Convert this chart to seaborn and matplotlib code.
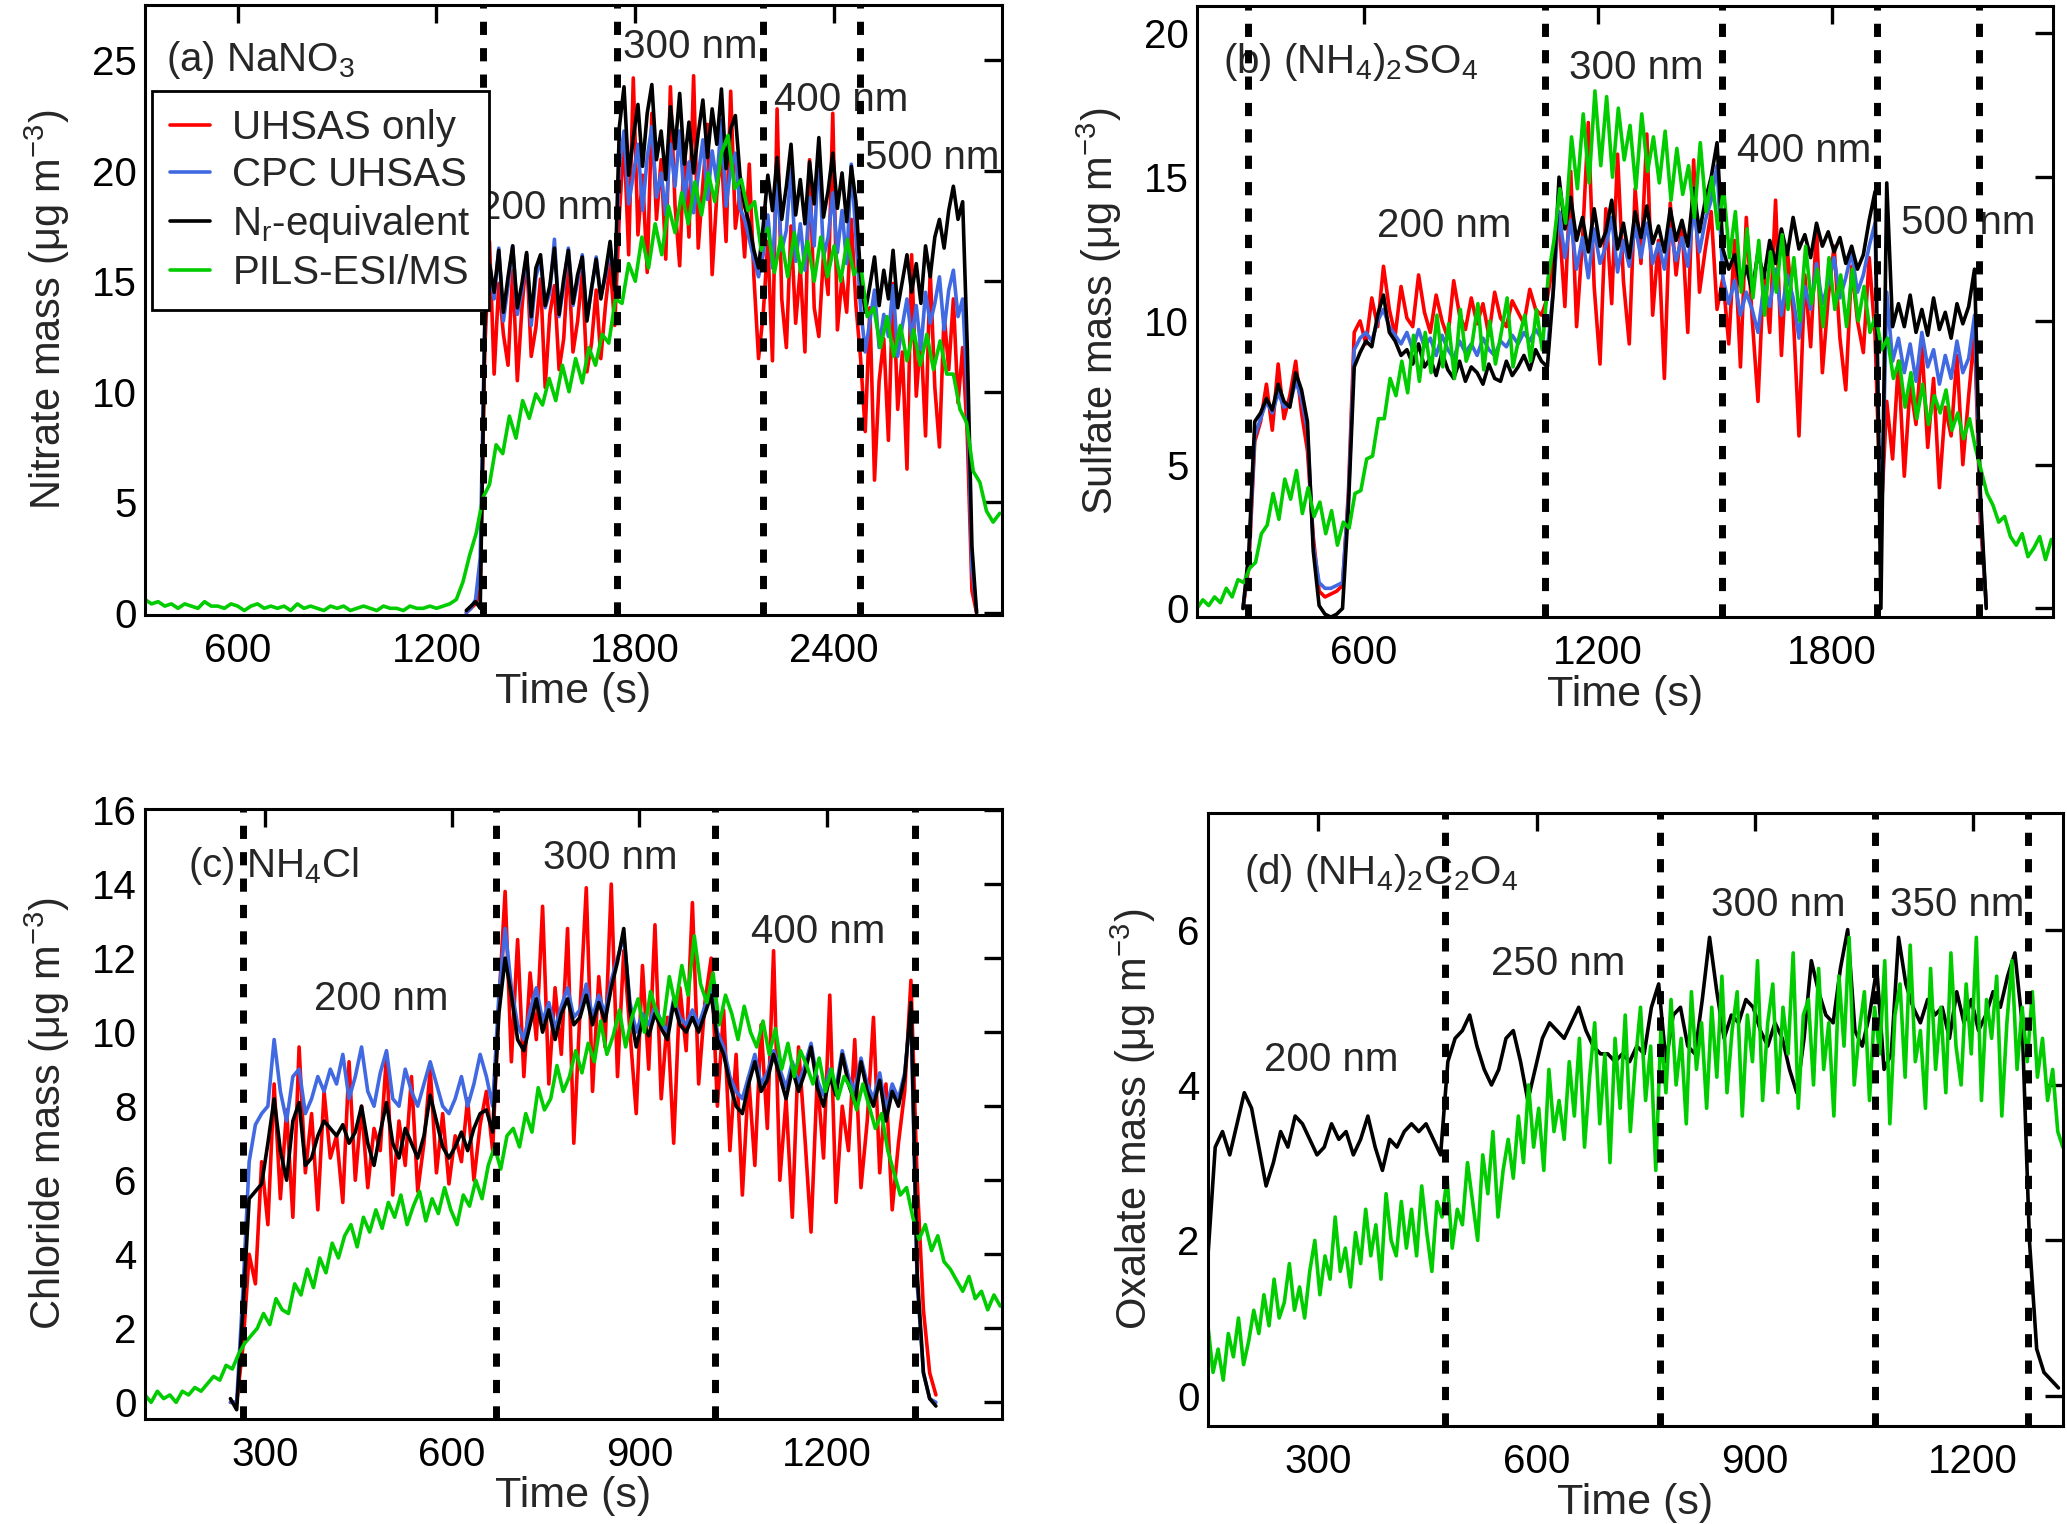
import numpy as np
import pandas as pd
import seaborn as sns
import matplotlib.pyplot as plt
from matplotlib.lines import Line2D

# ---------------- data ----------------
series_names = ['UHSAS only', 'CPC UHSAS', 'Nr-equivalent', 'PILS-ESI/MS']
legend_labels = ['UHSAS only', 'CPC UHSAS', r'N$_\mathrm{r}$-equivalent', 'PILS-ESI/MS']

# (a) NaNO3 -- UHSAS based traces start at 1290 s, one value every 14 s
a_uhsas_start, a_uhsas_step = 1290, 14
a_red = [0.0, 0.2, 0.4, 1.0,
         12.0, 16.8, 10.8, 14.9, 12.6, 11.2, 15.5, 10.5, 13.8, 16.2, 11.6, 12.9, 15.1, 10.2, 13.5,
         14.8, 11.0, 12.4, 16.0, 11.8, 13.2, 15.4, 10.9, 12.2, 14.6, 11.5, 13.9, 15.8, 13.0,
         18.0, 21.5, 16.2, 24.2, 17.1, 19.8, 15.4, 22.6, 17.8, 20.5, 16.0, 23.8, 18.4, 15.7, 21.2,
         17.0, 24.3, 16.5, 19.4, 22.1, 15.3, 18.9, 20.8, 16.8, 23.6, 17.4, 19.0, 16.1, 20.3, 15.2, 11.5,
         13.5, 16.8, 11.4, 22.8, 14.2, 12.0, 17.5, 13.1, 15.6, 11.8, 20.5, 13.8, 12.5, 16.2, 14.4,
         22.6, 12.8, 15.2, 13.6, 17.8, 13.9,
         11.5, 8.2, 13.8, 6.0, 10.5, 12.4, 7.8, 14.9, 9.2, 11.8, 6.5, 16.2, 9.8, 12.6, 8.0, 15.5,
         10.2, 7.5, 13.5, 11.0, 14.2, 9.5, 12.0,
         8.0, 1.0, 0.0]
a_blue = [0.0, 0.2, 0.6, 2.5,
          13.5, 15.8, 14.2, 16.5, 13.2, 14.8, 16.6, 13.5, 14.6, 16.2, 13.0, 15.2, 16.0, 13.8, 14.5,
          16.9, 13.4, 14.8, 16.5, 13.9, 15.0, 16.2, 13.3, 14.6, 16.1, 14.3, 15.2, 16.5, 14.8,
          20.2, 21.8, 18.5, 19.8, 21.2, 18.2, 20.6, 22.0, 18.8, 19.9, 18.0, 21.2, 19.3, 21.8, 18.6,
          20.4, 18.1, 19.8, 21.4, 18.7, 20.9, 19.5, 22.3, 18.4, 20.1, 20.8, 18.3, 17.8, 16.9, 16.0, 15.2,
          16.2, 18.0, 15.6, 19.5, 16.4, 17.3, 20.1, 15.9, 17.6, 15.5, 18.8, 16.6, 21.0, 16.1, 17.0,
          19.0, 16.3, 18.2, 15.8, 20.3, 17.0,
          13.8, 11.8, 13.2, 14.6, 12.0, 13.5, 12.5, 14.8, 11.6, 13.0, 14.2, 12.4, 13.9, 11.9, 14.5,
          13.1, 14.0, 15.2, 12.8, 14.6, 15.5, 13.4, 14.2,
          10.0, 2.0, 0.1]
a_black = [0.1, 0.3, 0.5, 0.2,
           13.2, 15.8, 14.5, 16.4, 13.6, 15.2, 16.6, 13.8, 14.9, 16.3, 13.4, 15.6, 16.2, 13.9, 14.8,
           16.5, 13.5, 15.1, 16.4, 14.0, 15.3, 16.1, 13.2, 14.7, 16.0, 14.2, 15.4, 16.8, 14.6,
           22.0, 23.8, 19.8, 21.5, 23.0, 20.2, 22.6, 23.9, 20.5, 21.8, 19.6, 22.9, 21.0, 23.5, 20.3,
           22.2, 19.9, 21.7, 23.2, 20.6, 22.8, 21.2, 23.7, 20.1, 21.9, 22.5, 19.8, 18.4, 17.6, 16.4, 15.6,
           17.5, 19.8, 18.2, 20.6, 17.8, 19.3, 21.2, 18.0, 19.6, 17.6, 20.4, 18.5, 21.5, 17.9, 19.1,
           20.8, 18.3, 19.9, 17.7, 20.2, 18.6,
           15.2, 13.6, 14.8, 16.1, 13.9, 15.5, 14.2, 16.4, 13.8, 15.0, 16.2, 14.5, 15.8, 14.0, 16.6,
           15.2, 17.0, 17.8, 16.5, 18.2, 19.3, 17.8, 18.6,
           12.0, 3.0, 0.0]
# PILS trace starts at 320 s, one value every 20 s
a_pils_start, a_pils_step = 320, 20
a_green = [0.6, 0.4, 0.5, 0.3, 0.4, 0.2, 0.4, 0.3, 0.2, 0.5, 0.3, 0.3, 0.2, 0.4, 0.3, 0.1,
           0.3, 0.4, 0.2, 0.3, 0.2, 0.3, 0.1, 0.4, 0.2, 0.3, 0.2, 0.1, 0.3, 0.2, 0.3, 0.1,
           0.2, 0.3, 0.2, 0.1, 0.3, 0.2, 0.2, 0.1, 0.3, 0.2, 0.2, 0.3, 0.2, 0.3, 0.4,
           0.6, 1.4, 2.6, 3.6, 5.2, 5.8, 7.6, 7.2, 8.9, 7.9, 9.6, 8.8, 9.9, 9.4, 10.6, 9.6,
           11.2, 10.0, 11.5, 10.4, 12.0, 11.2, 12.6, 12.2, 14.2, 14.0, 15.8, 15.0, 17.0, 15.6,
           17.6, 16.2, 18.4, 17.2, 19.0, 17.6, 19.5, 18.0, 19.9, 18.6, 20.8, 21.6, 19.2, 19.6,
           18.2, 18.6, 16.4, 17.4, 15.4, 17.0, 15.2, 17.2, 15.4, 16.8, 15.0, 17.0, 15.2, 16.6,
           15.0, 16.9, 15.3, 15.8, 13.4, 13.8, 12.0, 13.4, 11.6, 13.0, 11.4, 12.8, 11.2, 12.6,
           11.0, 12.3, 10.8, 10.8, 9.2, 8.6, 6.4, 5.9, 4.6, 4.1, 4.5]
a_size_times = [1340, 1745, 2185, 2478]

# (b) (NH4)2SO4 -- UHSAS based traces from 290 s every 15 s
b_uhsas_start, b_uhsas_step = 290, 15
b_red = [0.0, 1.5, 5.8, 6.5, 7.8, 6.2, 8.5, 6.6, 7.4, 8.6, 6.8, 5.5, 2.5, 0.6, 0.4, 0.5, 0.6, 0.8,
         4.0, 9.6, 10.0, 9.2, 10.8, 9.8, 11.9, 10.4, 9.5, 11.2, 10.1, 9.8, 11.6, 10.3, 9.6, 10.9,
         10.0, 9.4, 11.4, 10.2, 9.7, 10.8, 9.9, 10.6, 9.5, 11.0, 10.1, 9.8, 10.7, 10.3, 9.9, 11.1,
         10.4, 10.2, 10.8,
         12.0, 13.5, 10.5, 15.2, 9.8, 12.8, 16.9, 11.2, 8.5, 13.9, 10.6, 15.8, 11.4, 9.2, 14.6,
         12.0, 16.5, 10.2, 12.8, 8.0, 14.1, 11.6, 13.4, 9.6, 15.6, 11.0, 12.5, 13.8, 10.4,
         11.5, 9.2, 12.8, 8.4, 13.6, 10.1, 7.2, 11.8, 9.6, 14.2, 8.8, 12.5, 10.3, 6.0, 11.6, 9.1,
         13.3, 8.2, 10.8, 12.6, 9.4, 7.6, 11.9, 10.0, 8.9, 12.2, 9.5,
         3.0, 7.2, 5.2, 8.6, 4.6, 7.8, 6.4, 9.2, 5.6, 8.0, 4.2, 7.0, 6.0, 8.8, 5.0, 7.4, 9.6, 3.0, 0.2]
b_blue = [0.0, 1.8, 6.0, 6.6, 7.2, 6.8, 7.5, 7.0, 7.1, 7.9, 7.3, 6.2, 2.2, 0.9, 0.7, 0.7, 0.8, 0.9,
          3.8, 9.0, 9.4, 9.6, 9.3, 10.0, 10.4, 9.8, 9.5, 9.2, 9.6, 9.0, 9.7, 9.1, 9.4, 8.8, 9.5,
          9.0, 8.7, 9.3, 8.9, 9.2, 8.8, 9.4, 9.0, 8.8, 9.3, 9.1, 9.5, 9.2, 9.6, 9.3, 9.7, 9.4, 9.0,
          11.0, 13.8, 12.2, 13.5, 11.8, 12.9, 11.5, 13.2, 12.0, 12.6, 13.6, 11.7, 12.8, 11.9, 13.3,
          12.2, 13.4, 12.0, 12.7, 11.8, 13.2, 12.1, 12.9, 11.9, 13.9, 12.4, 13.5, 14.2, 15.4,
          11.5, 10.6, 11.4, 10.2, 11.0, 10.4, 9.6, 11.2, 10.5, 11.8, 10.2, 11.6, 10.8, 9.4, 11.2,
          10.4, 12.0, 10.6, 11.3, 12.2, 10.8, 11.5, 12.4, 11.0, 11.6, 12.6, 13.4,
          2.0, 11.0, 8.6, 9.4, 8.2, 9.2, 7.9, 9.6, 8.4, 9.0, 7.8, 8.8, 8.0, 9.3, 8.2, 8.7, 10.2, 3.5, 0.1]
b_black = [0.0, 2.0, 6.5, 6.8, 7.3, 6.9, 7.8, 7.2, 7.0, 8.2, 7.6, 6.5, 2.0, 0.1, -0.2, -0.3, -0.2, 0.0,
           3.5, 8.4, 8.9, 9.3, 9.1, 10.2, 10.9, 9.6, 9.3, 8.8, 9.0, 8.5, 9.2, 8.4, 8.7, 8.1, 8.9,
           8.3, 8.0, 8.6, 7.9, 8.4, 8.2, 7.8, 8.5, 8.0, 7.9, 8.6, 8.1, 8.4, 8.8, 8.3, 9.0, 8.6, 8.4,
           11.0, 15.0, 13.2, 14.3, 12.8, 13.6, 12.4, 13.9, 12.6, 13.1, 14.2, 12.5, 13.4, 12.2, 13.8,
           12.9, 14.0, 12.7, 13.3, 12.4, 13.9, 12.8, 13.5, 12.6, 14.6, 13.1, 14.2, 15.0, 16.2,
           12.5, 11.8, 12.3, 11.2, 11.9, 11.0, 12.4, 11.5, 12.8, 12.0, 13.2, 12.3, 13.6, 12.5, 13.0,
           12.2, 13.4, 12.6, 13.1, 12.4, 12.9, 12.0, 12.6, 11.8, 12.3, 13.5, 14.5,
           0.0, 14.8, 9.8, 10.6, 9.8, 10.9, 9.6, 10.4, 9.5, 10.8, 9.7, 10.3, 9.4, 10.6, 9.9, 10.5,
           11.8, 4.0, 0.0]
b_pils_start, b_pils_step = 172, 15
b_green = [0.0, 0.3, 0.1, 0.4, 0.2, 0.7, 0.4, 1.0, 0.9, 1.4,
           1.6, 2.6, 2.9, 4.0, 3.1, 4.5, 3.8, 4.8, 3.3, 4.2,
           3.2, 3.7, 2.6, 3.4, 2.2, 3.0, 2.8, 4.0, 4.1, 5.2,
           5.3, 6.6, 6.6, 8.0, 7.4, 8.6, 7.5, 9.5, 7.9, 9.6,
           8.2, 10.2, 8.4, 9.9, 8.0, 10.4, 8.6, 9.2, 10.6, 8.3,
           10.0, 8.5, 9.6, 10.8, 8.4, 9.4, 10.2, 8.6, 10.4, 9.0,
           11.5, 12.8, 14.6, 13.4, 16.4, 14.6, 17.2, 14.8, 18.0, 15.4,
           17.8, 15.0, 17.4, 15.6, 16.8, 14.6, 17.2, 15.2, 16.4, 14.8,
           16.6, 14.2, 16.0, 14.4, 15.4, 13.6, 16.2, 13.8, 15.0, 13.2,
           14.6, 12.2, 13.8, 11.0, 13.2, 10.8, 12.8, 10.2, 12.4, 11.0,
           13.0, 10.4, 12.2, 10.0, 12.6, 10.6, 11.8, 9.8, 12.2, 10.4,
           11.6, 9.8, 11.8, 10.0, 11.2, 9.6, 10.2, 9.0, 9.4, 8.0,
           8.6, 7.0, 8.2, 6.6, 7.8, 6.4, 7.4, 6.8, 7.6, 6.2,
           6.8, 5.9, 6.6, 5.6, 4.8, 4.0, 3.6, 3.0, 3.2, 2.5,
           2.2, 2.6, 1.8, 2.1, 2.5, 1.7, 2.4]
b_size_times = [302, 1064, 1517, 1915, 2177]

# (c) NH4Cl -- UHSAS based traces from 245 s every 10 s
c_uhsas_start, c_uhsas_step = 245, 10
c_red = [0.0, 0.0, 1.5, 4.0, 3.2, 6.5, 4.8, 8.6, 5.5, 7.9, 5.0, 9.6, 6.2, 7.8, 5.2, 8.4, 6.6,
         7.2, 5.4, 9.2, 6.0, 8.0, 5.8, 7.4, 6.8, 9.4, 5.6, 7.6, 6.4, 8.8, 5.7, 7.0, 9.0, 6.2,
         7.8, 5.9, 7.2, 6.5, 8.2, 6.0, 7.5, 8.4, 6.8,
         10.8, 13.8, 9.2, 12.5, 8.8, 11.6, 9.8, 13.4, 8.6, 11.2, 9.4, 12.8, 7.0, 10.6, 13.9, 8.4,
         11.5, 9.6, 14.0, 8.8, 12.2, 10.0, 7.8, 11.8, 9.0, 12.9, 8.2, 10.4, 7.0, 11.2, 9.5, 13.5,
         8.6, 10.8, 12.0,
         8.0, 10.6, 6.8, 9.4, 5.6, 8.8, 6.4, 10.2, 7.4, 12.2, 6.0, 8.2, 5.0, 9.6, 7.2, 4.6, 8.8,
         6.6, 11.0, 5.4, 8.0, 6.8, 9.8, 5.8, 7.6, 10.4, 6.2, 8.6, 5.2, 7.0, 8.4, 11.4,
         6.0, 2.5, 0.8, 0.2]
c_blue = [0.0, 0.0, 3.0, 6.5, 7.5, 7.8, 8.0, 9.8, 8.4, 7.6, 8.8, 9.0, 7.8, 8.2, 8.8, 8.4, 9.0,
          8.6, 9.4, 8.2, 8.8, 9.6, 8.4, 8.0, 8.9, 9.5, 8.2, 8.0, 9.0, 8.4, 8.0, 8.6, 9.2, 8.6,
          8.0, 7.8, 8.2, 8.8, 8.0, 8.6, 9.4, 8.8, 8.0,
          11.0, 12.8, 11.2, 10.2, 9.8, 10.6, 11.2, 10.3, 10.8, 10.1, 10.7, 11.2, 10.4, 10.6, 11.3,
          10.4, 11.0, 10.5, 11.4, 12.0, 12.6, 10.8, 10.0, 10.5, 10.2, 10.7, 10.3, 10.0, 10.9, 10.4,
          10.2, 10.6, 10.2, 10.7, 11.2,
          10.0, 9.6, 8.8, 8.4, 8.2, 8.8, 9.4, 8.6, 8.9, 9.5, 9.0, 8.5, 9.2, 8.6, 9.1, 9.7, 8.7,
          8.3, 9.0, 8.5, 9.5, 8.8, 8.4, 9.3, 8.6, 8.2, 8.9, 7.9, 8.6, 8.2, 8.9, 10.6,
          3.2, 0.8, 0.1, 0.0]
c_black = [0.1, -0.2, 2.5, 5.5, 5.7, 5.9, 7.0, 8.2, 6.8, 6.0, 7.6, 8.1, 6.4, 6.6, 7.2, 7.6, 7.4,
           7.2, 7.5, 7.0, 7.3, 8.0, 7.0, 6.4, 7.3, 8.1, 7.0, 6.6, 7.4, 7.0, 6.6, 7.2, 8.3, 7.6,
           6.9, 6.6, 6.9, 7.3, 6.8, 7.4, 7.8, 7.9, 7.3,
           10.5, 12.0, 11.0, 9.8, 9.5, 10.2, 10.9, 10.0, 10.6, 9.8, 10.5, 10.9, 10.2, 10.4, 11.0,
           10.2, 10.8, 10.3, 11.2, 11.9, 12.8, 10.6, 9.6, 10.3, 9.9, 10.5, 10.1, 9.8, 10.8, 10.2,
           10.0, 10.4, 10.0, 10.5, 11.0,
           9.8, 9.4, 8.6, 8.0, 7.8, 8.6, 9.2, 8.4, 8.7, 9.4, 8.8, 8.2, 9.0, 8.4, 8.9, 9.6, 8.5,
           8.0, 8.8, 8.3, 9.4, 8.6, 8.1, 9.2, 8.4, 8.0, 8.7, 7.6, 8.4, 8.0, 8.8, 10.8,
           3.5, 0.8, 0.1, -0.1]
c_pils_start, c_pils_step = 108, 10
c_green = [0.2, 0.0, 0.3, 0.1, 0.2, 0.0, 0.3, 0.2, 0.4, 0.3,
           0.5, 0.7, 0.6, 1.0, 0.9, 1.3, 1.6, 1.8, 2.0, 2.4,
           2.1, 2.8, 2.5, 2.4, 3.2, 2.9, 3.6, 3.1, 3.9, 3.5,
           4.3, 3.9, 4.5, 4.8, 4.2, 5.0, 4.6, 5.2, 4.7, 5.4,
           5.0, 5.6, 4.8, 5.3, 5.7, 4.9, 5.5, 5.1, 5.8, 5.2,
           4.8, 5.6, 5.3, 6.0, 5.5, 6.4, 6.9, 6.3, 7.2, 7.4,
           6.9, 7.8, 7.3, 8.5, 7.9, 8.2, 9.1, 8.4, 8.8, 9.5,
           8.9, 9.7, 9.2, 10.3, 9.4, 9.9, 10.6, 9.6, 10.4, 10.9,
           10.0, 11.1, 10.5, 10.2, 11.5, 10.7, 11.8, 11.0, 12.6, 11.3,
           10.8, 11.6, 10.2, 11.0, 10.5, 9.8, 10.7, 10.0, 9.6, 10.3,
           9.4, 10.1, 9.0, 9.7, 8.8, 9.5, 9.1, 8.6, 9.3, 8.4,
           9.0, 8.2, 8.8, 8.5, 7.9, 8.6, 8.0, 7.4, 7.8, 6.8,
           6.2, 5.6, 5.8, 5.0, 4.4, 4.8, 4.1, 4.5, 3.8, 3.6,
           3.3, 3.0, 3.4, 2.8, 3.0, 2.5, 2.9, 2.6]
c_size_times = [265, 671, 1021, 1341]

# (d) (NH4)2C2O4 -- only Nr-equivalent and PILS
d_black_start, d_black_step = 148, 10
d_black = [1.8, 3.2, 3.4, 3.1, 3.5, 3.9, 3.7, 3.2, 2.7, 3.0, 3.4, 3.2, 3.6, 3.5, 3.3, 3.1, 3.2,
           3.5, 3.3, 3.4, 3.1, 3.3, 3.6, 3.2, 2.9, 3.3, 3.2, 3.4, 3.5, 3.4, 3.5, 3.3, 3.1, 4.3,
           4.6, 4.7, 4.9, 4.5, 4.2, 4.0, 4.2, 4.6, 4.7, 4.3, 3.8, 4.2, 4.6, 4.8, 4.7, 4.6, 4.8,
           5.0, 4.7, 4.5, 4.4, 4.4, 4.3, 4.4, 4.3, 4.5, 4.4, 5.0, 5.3, 4.3, 4.9, 5.0, 4.5, 4.4,
           5.1, 5.9, 5.2, 4.6, 4.9, 4.8, 5.1, 5.0, 4.7, 4.5, 4.8, 4.6, 4.2, 3.9, 4.6, 5.6, 5.2,
           4.9, 4.8, 5.5, 6.0, 4.7, 4.5, 4.9, 5.5, 4.2, 4.4, 5.9, 5.3, 5.0, 4.8, 5.1, 4.9, 5.0,
           4.6, 5.2, 4.8, 5.1, 4.7, 4.9, 5.2, 5.0, 5.4, 5.7, 4.8, 2.0, 0.6, 0.3, 0.2, 0.1]
d_pils_start, d_pils_step = 148, 7
d_green = [0.9, 0.3, 0.6, 0.2, 0.8, 0.5, 1.0, 0.4, 0.7, 1.1,
           0.8, 1.3, 0.9, 1.5, 1.0, 1.2, 1.7, 1.1, 1.4, 1.0,
           1.6, 2.0, 1.3, 1.8, 1.5, 2.3, 1.6, 1.9, 1.4, 2.1,
           1.7, 2.4, 1.8, 2.2, 1.5, 2.6, 2.0, 1.8, 2.5, 1.9,
           2.4, 1.8, 2.7, 2.1, 1.6, 2.5, 2.3, 2.8, 1.9, 2.4,
           2.2, 3.0, 2.5, 2.0, 3.1, 2.6, 3.4, 2.3, 2.9, 3.3,
           2.8, 3.6, 3.0, 4.0, 3.2, 3.7, 2.9, 4.2, 3.4, 3.8,
           3.3, 4.3, 3.6, 4.6, 3.2, 4.1, 4.8, 3.5, 4.4, 3.0,
           4.6, 3.7, 4.9, 3.4, 4.3, 5.0, 3.8, 4.5, 2.9, 4.7,
           3.9, 5.1, 4.0, 4.6, 3.5, 5.2, 4.2, 4.8, 3.7, 5.0,
           4.1, 5.4, 3.9, 4.7, 5.2, 3.6, 4.9, 4.3, 5.6, 3.8,
           4.8, 5.3, 3.9, 5.0, 4.4, 5.7, 3.7, 4.9, 5.1, 4.0,
           5.5, 4.2, 4.8, 3.6, 5.4, 4.5, 5.9, 4.0, 4.7, 5.2,
           3.8, 5.0, 4.4, 5.6, 3.5, 4.9, 5.3, 4.1, 5.8, 4.3,
           4.7, 3.7, 5.5, 4.2, 5.0, 3.9, 5.7, 4.5, 4.0, 5.3,
           4.4, 5.9, 3.8, 5.1, 4.6, 5.4, 3.6, 4.8, 5.6, 4.2,
           5.0, 4.3, 5.2, 4.1, 4.6, 3.8, 4.2, 3.4, 3.2]
d_size_times = [474, 770, 1065, 1276]

palette = {'UHSAS only': '#FF0000', 'CPC UHSAS': '#4169E1',
           'Nr-equivalent': '#000000', 'PILS-ESI/MS': '#00CC00'}


def long_frame(parts):
    # parts: list of (name, start, step, values)
    frames = []
    for name, start, step, vals in parts:
        t = start + step * np.arange(len(vals))
        frames.append(pd.DataFrame({'Time': t, 'Mass': vals, 'Series': name}))
    return pd.concat(frames, ignore_index=True)


df_a = long_frame([('UHSAS only', a_uhsas_start, a_uhsas_step, a_red),
                   ('CPC UHSAS', a_uhsas_start, a_uhsas_step, a_blue),
                   ('Nr-equivalent', a_uhsas_start, a_uhsas_step, a_black),
                   ('PILS-ESI/MS', a_pils_start, a_pils_step, a_green)])
df_b = long_frame([('UHSAS only', b_uhsas_start, b_uhsas_step, b_red),
                   ('CPC UHSAS', b_uhsas_start, b_uhsas_step, b_blue),
                   ('Nr-equivalent', b_uhsas_start, b_uhsas_step, b_black),
                   ('PILS-ESI/MS', b_pils_start, b_pils_step, b_green)])
df_c = long_frame([('UHSAS only', c_uhsas_start, c_uhsas_step, c_red),
                   ('CPC UHSAS', c_uhsas_start, c_uhsas_step, c_blue),
                   ('Nr-equivalent', c_uhsas_start, c_uhsas_step, c_black),
                   ('PILS-ESI/MS', c_pils_start, c_pils_step, c_green)])
df_d = long_frame([('Nr-equivalent', d_black_start, d_black_step, d_black),
                   ('PILS-ESI/MS', d_pils_start, d_pils_step, d_green)])

# ---------------- style ----------------
sns.set_theme(style='white')
plt.rcParams['font.family'] = ['Liberation Sans', 'DejaVu Sans']
plt.rcParams['mathtext.fontset'] = 'custom'
plt.rcParams['mathtext.rm'] = 'Liberation Sans'
plt.rcParams['mathtext.it'] = 'Liberation Sans:italic'
plt.rcParams['mathtext.bf'] = 'Liberation Sans:bold'
plt.rcParams['axes.edgecolor'] = 'black'
plt.rcParams['axes.linewidth'] = 2.2

FS = 29

fig = plt.figure(figsize=(20.67, 15.24), dpi=100)
ax_a = fig.add_axes([0.0701, 0.5965, 0.4147, 0.4002])
ax_b = fig.add_axes([0.5791, 0.5951, 0.4141, 0.4009])
ax_c = fig.add_axes([0.0701, 0.0689, 0.4147, 0.4003])
ax_d = fig.add_axes([0.5844, 0.0643, 0.4136, 0.4022])

panels = [
    (ax_a, df_a, a_size_times, (320, 2907), (-0.1, 27.5), [600, 1200, 1800, 2400], [0, 5, 10, 15, 20, 25],
     'Nitrate mass (μg m$^{-3}$)'),
    (ax_b, df_b, b_size_times, (172, 2366), (-0.3, 20.95), [600, 1200, 1800], [0, 5, 10, 15, 20],
     'Sulfate mass (μg m$^{-3}$)'),
    (ax_c, df_c, c_size_times, (108, 1481), (-0.45, 16.03), [300, 600, 900, 1200], list(range(0, 17, 2)),
     'Chloride mass (μg m$^{-3}$)'),
    (ax_d, df_d, d_size_times, (148, 1324), (-0.39, 7.5), [300, 600, 900, 1200], [0, 2, 4, 6],
     'Oxalate mass (μg m$^{-3}$)'),
]

for ax, df, vlines, xlim, ylim, xt, yt, ylab in panels:
    order = [s for s in series_names if s in df['Series'].unique()]
    sns.lineplot(data=df, x='Time', y='Mass', hue='Series', hue_order=order, palette=palette,
                 estimator=None, sort=False, lw=2.6, legend=False, ax=ax)
    for xv in vlines:
        ax.axvline(xv, color='black', lw=5, ls=(0, (1.9, 1.9)), zorder=5)
    ax.set_xlim(*xlim)
    ax.set_ylim(*ylim)
    ax.set_xticks(xt)
    ax.set_yticks(yt)
    ax.tick_params(direction='in', length=13, width=2.4, top=True, right=True,
                   labelsize=FS, colors='black')
    ax.tick_params(axis='x', pad=12)
    ax.tick_params(axis='y', pad=6)
    ax.set_xlabel('Time (s)', fontsize=FS + 2, labelpad=2)
    ax.set_ylabel(ylab, fontsize=FS + 1, labelpad=14)
    for sp in ax.spines.values():
        sp.set_visible(True)
        sp.set_linewidth(2.2)
        sp.set_color('black')

# panel annotations
ax_a.text(384, 25.0, '(a) NaNO$_3$', fontsize=FS, ha='left', va='center')
for txt, x, y in [('200 nm', 1530, 18.3), ('300 nm', 1965, 25.6), ('400 nm', 2421, 23.2), ('500 nm', 2697, 20.6)]:
    ax_a.text(x, y, txt, fontsize=FS, ha='center', va='center')

ax_b.text(238, 19.0, '(b) (NH$_4$)$_2$SO$_4$', fontsize=FS, ha='left', va='center')
for txt, x, y in [('200 nm', 805, 13.3), ('300 nm', 1299, 18.8), ('400 nm', 1727, 15.9), ('500 nm', 2148, 13.4)]:
    ax_b.text(x, y, txt, fontsize=FS, ha='center', va='center')

ax_c.text(177, 14.5, '(c) NH$_4$Cl', fontsize=FS, ha='left', va='center')
for txt, x, y in [('200 nm', 486, 10.9), ('300 nm', 853, 14.7), ('400 nm', 1187, 12.7)]:
    ax_c.text(x, y, txt, fontsize=FS, ha='center', va='center')

ax_d.text(197, 6.73, '(d) (NH$_4$)$_2$C$_2$O$_4$', fontsize=FS, ha='left', va='center')
for txt, x, y in [('200 nm', 318, 4.32), ('250 nm', 629, 5.56), ('300 nm', 933, 6.32), ('350 nm', 1178, 6.32)]:
    ax_d.text(x, y, txt, fontsize=FS, ha='center', va='center')

# legend (panel a only)
handles = [Line2D([0], [0], color=palette[s], lw=2.6) for s in series_names]
leg = ax_a.legend(handles, legend_labels, loc='upper left', bbox_to_anchor=(0.008, 0.859),
                  fontsize=FS, frameon=True, fancybox=False, edgecolor='black', framealpha=1,
                  borderpad=0.45, labelspacing=0.22, handlelength=1.0, handletextpad=0.55,
                  borderaxespad=0)
leg.get_frame().set_linewidth(2)
leg.set_zorder(10)

fig.savefig('out.png', dpi=100)
